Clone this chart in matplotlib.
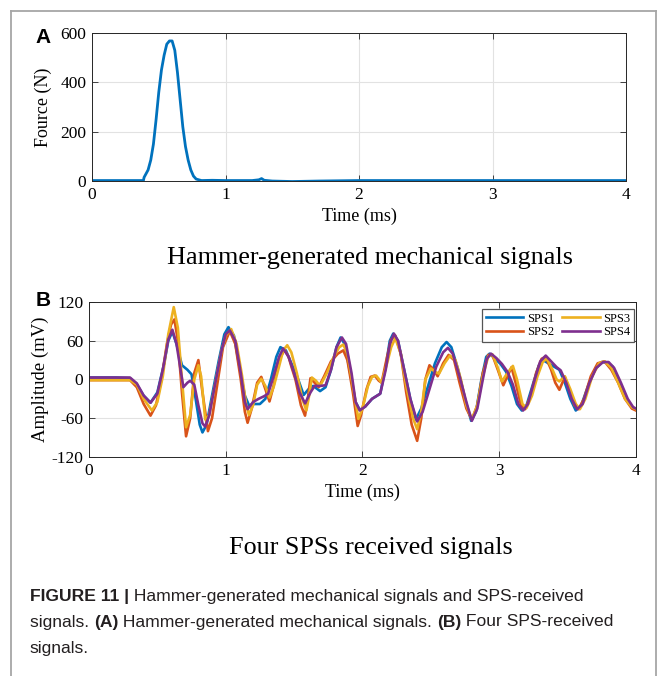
import matplotlib
matplotlib.use("Agg")
import matplotlib.pyplot as plt
from matplotlib.lines import Line2D

plt.rcParams["axes.unicode_minus"] = False

# Panel A: hammer force (N) vs time (ms)
force_t = [0, 0.2, 0.385, 0.39, 0.40, 0.42, 0.44, 0.46, 0.48, 0.50, 0.52, 0.54, 0.56, 0.58,
           0.60, 0.62, 0.64, 0.66, 0.68, 0.70, 0.72, 0.74, 0.76, 0.78, 0.82, 0.9, 1.0, 1.2,
           1.25, 1.27, 1.29, 1.35, 1.5, 1.7, 2.0, 3.0, 4.0]
force_v = [2, 2, 2, 15, 25, 45, 85, 150, 250, 360, 450, 510, 555, 568,
           568, 530, 440, 330, 220, 140, 85, 45, 20, 8, 2, 3, 2, 2,
           5, 10, 3, 0, -2, 0, 2, 2, 2]

# Panel B: four SPS signals (mV) vs time (ms)
sps1_t = [0.00, 0.10, 0.20, 0.30, 0.35, 0.40, 0.45, 0.50, 0.55, 0.58, 0.61, 0.64, 0.68, 0.72,
          0.75, 0.78, 0.81, 0.83, 0.86, 0.90, 0.95, 0.99, 1.02, 1.06, 1.10, 1.14, 1.17, 1.21,
          1.25, 1.29, 1.33, 1.37, 1.40, 1.44, 1.48, 1.52, 1.57, 1.61, 1.64, 1.69, 1.73, 1.77,
          1.81, 1.84, 1.87, 1.91, 1.95, 1.98, 2.02, 2.07, 2.13, 2.17, 2.20, 2.225, 2.26, 2.30,
          2.35, 2.39, 2.43, 2.48, 2.53, 2.58, 2.615, 2.65, 2.70, 2.75, 2.795, 2.83, 2.87, 2.905,
          2.93, 2.97, 3.01, 3.05, 3.09, 3.13, 3.165, 3.20, 3.25, 3.29, 3.32, 3.36, 3.40, 3.44,
          3.48, 3.52, 3.56, 3.60, 3.65, 3.70, 3.75, 3.79, 3.83, 3.88, 3.93, 3.97, 4.00]
sps1_v = [3, 3, 3, 2, -8, -25, -36, -20, 25, 60, 74, 55, 22, 15,
          8, -30, -70, -82, -70, -25, 30, 70, 81, 68, 20, -25, -40, -38,
          -38, -30, 0, 35, 50, 45, 25, 6, -24, -14, -10, -18, -12, 15,
          50, 65, 55, 10, -35, -47, -42, -30, -22, 20, 60, 71, 60, 20,
          -30, -62, -45, -10, 25, 50, 58, 50, 15, -30, -64, -50, 0, 35,
          40, 32, 24, 12, -10, -38, -48, -40, -5, 22, 30, 25, 20, 15,
          -5, -30, -48, -40, -10, 15, 27, 26, 20, -5, -30, -42, -46]

sps2_t = [0.00, 0.30, 0.35, 0.40, 0.45, 0.49, 0.53, 0.57, 0.60, 0.625, 0.65, 0.68, 0.71, 0.74,
          0.77, 0.80, 0.83, 0.87, 0.90, 0.94, 0.98, 1.03, 1.07, 1.11, 1.14, 1.16, 1.19, 1.23,
          1.26, 1.29, 1.32, 1.35, 1.39, 1.43, 1.46, 1.48, 1.51, 1.55, 1.58, 1.60, 1.62, 1.65,
          1.68, 1.72, 1.77, 1.82, 1.86, 1.89, 1.93, 1.965, 1.99, 2.03, 2.06, 2.09, 2.12, 2.14,
          2.18, 2.21, 2.24, 2.28, 2.32, 2.36, 2.40, 2.43, 2.46, 2.49, 2.52, 2.55, 2.59, 2.63,
          2.67, 2.71, 2.76, 2.80, 2.84, 2.88, 2.92, 2.95, 2.99, 3.03, 3.06, 3.09, 3.12, 3.16,
          3.19, 3.23, 3.27, 3.31, 3.34, 3.38, 3.41, 3.44, 3.48, 3.51, 3.55, 3.58, 3.62, 3.67,
          3.72, 3.77, 3.82, 3.87, 3.92, 3.97, 4.00]
sps2_v = [-1, -1, -12, -38, -56, -40, 0, 55, 85, 93, 60, -20, -88, -60,
          10, 30, -20, -80, -60, -5, 50, 75, 55, 0, -50, -67, -45, -5,
          4, -15, -34, -10, 30, 46, 35, 20, 0, -40, -56, -30, 2, -5,
          -12, 5, 28, 40, 45, 30, -20, -72, -55, -15, 4, 6, -2, -5,
          35, 62, 68, 40, -20, -70, -95, -60, 0, 22, 15, 5, 25, 38,
          30, -5, -45, -62, -40, 10, 38, 38, 15, -9, 5, 19, -5, -40,
          -46, -25, 10, 32, 35, 15, -5, -16, 4, -15, -40, -46, -30, 5,
          25, 28, 15, -5, -30, -45, -48]

sps3_t = [0.00, 0.30, 0.35, 0.40, 0.46, 0.50, 0.54, 0.58, 0.62, 0.65, 0.68, 0.71, 0.74, 0.77,
          0.80, 0.82, 0.85, 0.88, 0.92, 0.97, 1.00, 1.04, 1.08, 1.12, 1.15, 1.17, 1.20, 1.23,
          1.26, 1.29, 1.32, 1.35, 1.39, 1.42, 1.45, 1.48, 1.52, 1.56, 1.59, 1.61, 1.63, 1.66,
          1.69, 1.74, 1.79, 1.83, 1.86, 1.89, 1.93, 1.97, 2.00, 2.04, 2.07, 2.10, 2.14, 2.18,
          2.21, 2.24, 2.28, 2.32, 2.37, 2.40, 2.43, 2.46, 2.50, 2.53, 2.56, 2.60, 2.64, 2.68,
          2.72, 2.76, 2.80, 2.84, 2.88, 2.92, 2.95, 2.99, 3.02, 3.06, 3.10, 3.13, 3.17, 3.20,
          3.24, 3.28, 3.32, 3.35, 3.39, 3.42, 3.44, 3.48, 3.52, 3.56, 3.59, 3.63, 3.68, 3.73,
          3.77, 3.82, 3.87, 3.92, 3.97, 4.00]
sps3_v = [-1, -1, -8, -30, -48, -35, 5, 70, 112, 80, 0, -74, -55, 0,
          22, 5, -62, -55, -10, 45, 68, 78, 55, 5, -40, -55, -40, -8,
          1, -10, -28, -12, 20, 45, 53, 42, 10, -30, -48, -25, 3, -2,
          -10, 10, 35, 50, 54, 40, -10, -61, -45, -10, 4, 6, -5, 25,
          50, 64, 40, -10, -60, -77, -50, 0, 17, 12, 9, 25, 37, 30,
          0, -40, -62, -40, 5, 36, 39, 18, -3, 10, 21, 0, -38, -44,
          -25, 5, 28, 32, 15, 0, -3, 5, -15, -38, -46, -30, 5, 25,
          28, 18, -5, -30, -43, -46]

sps4_t = [0.00, 0.30, 0.35, 0.40, 0.45, 0.50, 0.54, 0.58, 0.61, 0.64, 0.67, 0.69, 0.72, 0.74,
          0.77, 0.80, 0.83, 0.85, 0.88, 0.92, 0.97, 1.00, 1.03, 1.07, 1.11, 1.14, 1.16, 1.20,
          1.24, 1.28, 1.31, 1.35, 1.39, 1.42, 1.46, 1.50, 1.54, 1.58, 1.62, 1.65, 1.69, 1.73,
          1.77, 1.81, 1.85, 1.88, 1.92, 1.95, 1.98, 2.02, 2.07, 2.13, 2.17, 2.20, 2.23, 2.26,
          2.30, 2.35, 2.40, 2.44, 2.49, 2.54, 2.59, 2.625, 2.66, 2.71, 2.76, 2.80, 2.84, 2.88,
          2.91, 2.94, 2.98, 3.02, 3.06, 3.10, 3.14, 3.175, 3.21, 3.26, 3.30, 3.34, 3.38, 3.42,
          3.45, 3.49, 3.53, 3.57, 3.61, 3.66, 3.71, 3.76, 3.80, 3.84, 3.89, 3.94, 3.98, 4.00]
sps4_v = [3, 3, -6, -25, -36, -22, 15, 62, 77, 55, 15, -12, -5, -2,
          -8, -40, -68, -73, -55, -10, 45, 70, 76, 60, 10, -35, -46, -35,
          -30, -26, -22, 5, 35, 48, 35, 10, -20, -37, -20, -10, -10, -9,
          15, 50, 65, 55, 10, -35, -48, -42, -30, -22, 15, 55, 71, 60,
          20, -30, -65, -50, -15, 20, 42, 49, 40, 5, -35, -64, -45, 0,
          32, 40, 33, 24, 12, -8, -38, -48, -38, 0, 28, 37, 28, 19,
          14, -5, -30, -46, -38, -5, 18, 27, 27, 18, -5, -30, -43, -45]

labels = ["SPS1", "SPS2", "SPS3", "SPS4"]
colors = ["#0072BD", "#D95319", "#EDB120", "#7E2F8E"]

serif = "Liberation Serif"
sans = "Liberation Sans"
axis_col = "#262626"

fig = plt.figure(figsize=(6.63, 6.76), dpi=100)


def style_axes(ax):
    ax.grid(True, color="#e2e2e2", linewidth=0.8)
    ax.set_axisbelow(True)
    ax.tick_params(direction="in", top=True, right=True, length=4, width=0.6,
                   colors=axis_col, labelsize=12.5, pad=4)
    for lab in ax.get_xticklabels() + ax.get_yticklabels():
        lab.set_fontfamily(serif)
        lab.set_color("black")
    for sp in ax.spines.values():
        sp.set_color(axis_col)
        sp.set_linewidth(0.7)


# panel A
axA = fig.add_axes([0.1388, 0.7322, 0.8054, 0.2189])
axA.plot(force_t, force_v, color="#0072BD", linewidth=2.0, solid_joinstyle="round")
axA.set_xlim(0, 4)
axA.set_ylim(0, 600)
axA.set_xticks([0, 1, 2, 3, 4])
axA.set_yticks([0, 200, 400, 600])
style_axes(axA)
axA.set_xlabel("Time (ms)", fontfamily=serif, fontsize=13, labelpad=4)
axA.set_ylabel("Fource (N)", fontfamily=serif, fontsize=13, labelpad=6)

# panel B
axB = fig.add_axes([0.1342, 0.3240, 0.8250, 0.2293])
series = [(sps1_t, sps1_v), (sps2_t, sps2_v), (sps3_t, sps3_v), (sps4_t, sps4_v)]
for (t, v), lab, c in zip(series, labels, colors):
    axB.plot(t, v, color=c, linewidth=1.9, label=lab, solid_joinstyle="round")
axB.set_xlim(0, 4)
axB.set_ylim(-120, 120)
axB.set_xticks([0, 1, 2, 3, 4])
axB.set_yticks([-120, -60, 0, 60, 120])
style_axes(axB)
axB.set_xlabel("Time (ms)", fontfamily=serif, fontsize=13, labelpad=4)
axB.set_ylabel("Amplitude (mV)", fontfamily=serif, fontsize=13.5, labelpad=2)
leg = axB.legend(loc="upper right", bbox_to_anchor=(0.997, 0.955), ncol=2,
                 prop={"family": serif, "size": 9}, handlelength=3.0,
                 handletextpad=0.3, columnspacing=0.65, labelspacing=0.1,
                 borderpad=0.3, fancybox=False, framealpha=1,
                 edgecolor="#555555", borderaxespad=0.0)
leg.get_frame().set_linewidth(0.9)

# panel letters and subtitles
fig.text(0.053, 0.944, "A", fontfamily=sans, fontweight="bold", fontsize=15,
         ha="left", va="center")
fig.text(0.053, 0.556, "B", fontfamily=sans, fontweight="bold", fontsize=15,
         ha="left", va="center")
fig.text(0.558, 0.618, "Hammer-generated mechanical signals", fontfamily=serif,
         fontsize=18.8, ha="center", va="center")
fig.text(0.559, 0.189, "Four SPSs received signals", fontfamily=serif,
         fontsize=18.8, ha="center", va="center")

# caption with mixed bold / normal pieces
cap_col = "#231F20"
cap_lines = [
    [("FIGURE 11 |", "bold"), (" Hammer-generated mechanical signals and SPS-received", "normal")],
    [("signals. ", "normal"), ("(A)", "bold"), (" Hammer-generated mechanical signals. ", "normal"),
     ("(B)", "bold"), (" Four SPS-received", "normal")],
    [("signals.", "normal")],
]
cap_y = [1 - 597 / 676, 1 - 622 / 676, 1 - 648 / 676]
renderer = fig.canvas.get_renderer()
for pieces, y in zip(cap_lines, cap_y):
    x = 30 / 663
    for txt, w in pieces:
        t = fig.text(x, y, txt, fontfamily=sans, fontweight=w, fontsize=12.6,
                     color=cap_col, ha="left", va="center")
        bb = t.get_window_extent(renderer)
        x = fig.transFigure.inverted().transform((bb.x1, 0))[0]

# outer gray frame of the figure card
frame_col = "#a6a6a6"
x0, x1, y0 = 11 / 663, 656 / 663, 1 - 11 / 676
fig.add_artist(Line2D([x0, x0], [0, y0], color=frame_col, linewidth=1.3))
fig.add_artist(Line2D([x0, x1], [y0, y0], color=frame_col, linewidth=1.3))
fig.add_artist(Line2D([x1, x1], [0, y0], color=frame_col, linewidth=1.3))

fig.savefig("out.png", dpi=100)
